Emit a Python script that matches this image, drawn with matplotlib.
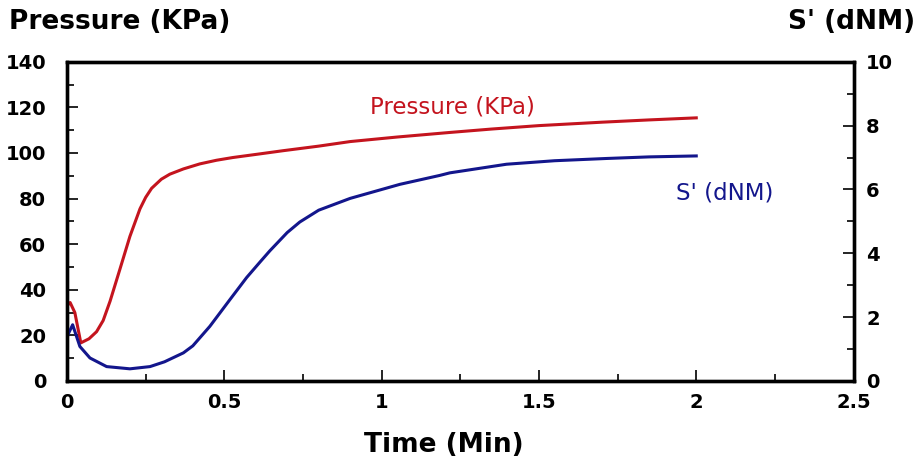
import matplotlib.pyplot as plt
from matplotlib.ticker import MultipleLocator

# values
t_pressure = [0.0, 0.01, 0.025, 0.044, 0.07, 0.094, 0.115, 0.137, 0.168, 0.2, 0.232, 0.25,
              0.269, 0.3, 0.327, 0.37, 0.422, 0.475, 0.527, 0.613, 0.687, 0.8, 0.9,
              1.05, 1.217, 1.35, 1.5, 1.7, 1.85, 2.0]
pressure = [33.0, 34.4, 30.0, 16.7, 18.5, 21.6, 26.5, 35.0, 48.9, 63.4, 75.5, 80.5,
            84.5, 88.5, 90.7, 93.0, 95.2, 96.8, 98.0, 99.6, 101.0, 103.0, 105.0,
            107.0, 109.0, 110.5, 112.0, 113.5, 114.5, 115.4]

t_torque = [0.0, 0.003, 0.018, 0.041, 0.073, 0.126, 0.2, 0.264, 0.31, 0.37, 0.4, 0.454,
            0.518, 0.571, 0.613, 0.645, 0.7, 0.74, 0.8, 0.9, 1.058, 1.185, 1.217,
            1.397, 1.55, 1.714, 1.85, 2.0]
torque = [1.3, 1.45, 1.76, 1.08, 0.72, 0.45, 0.38, 0.45, 0.6, 0.88, 1.1, 1.71,
          2.55, 3.24, 3.72, 4.08, 4.65, 4.98, 5.35, 5.72, 6.16, 6.44, 6.52,
          6.79, 6.9, 6.97, 7.02, 7.05]

red = '#c4141e'
blue = '#13168c'
font = 'DejaVu Sans'

fig = plt.figure(figsize=(9.2, 4.68), dpi=100)
ax = fig.add_axes([0.0728, 0.186, 0.855, 0.682])
ax2 = ax.twinx()

ax.plot(t_pressure, pressure, color=red, lw=2.2)
ax2.plot(t_torque, torque, color=blue, lw=2.2)

ax.set_xlim(0, 2.5)
ax.set_ylim(0, 140)
ax2.set_ylim(0, 10)

ax.xaxis.set_major_locator(MultipleLocator(0.5))
ax.xaxis.set_minor_locator(MultipleLocator(0.25))
ax.yaxis.set_major_locator(MultipleLocator(20))
ax.yaxis.set_minor_locator(MultipleLocator(10))
ax2.yaxis.set_major_locator(MultipleLocator(2))
ax2.yaxis.set_minor_locator(MultipleLocator(1))
ax.set_xticks([0, 0.5, 1, 1.5, 2, 2.5])
ax.set_xticklabels(['0', '0.5', '1', '1.5', '2', '2.5'])

for a in (ax, ax2):
    for s in a.spines.values():
        s.set_linewidth(2.4)
    a.tick_params(which='major', direction='in', length=8, width=1.2)
    a.tick_params(which='minor', direction='in', length=5, width=1.2)
ax.tick_params(axis='y', pad=15)
ax.tick_params(axis='x', pad=9)
ax2.tick_params(axis='y', pad=9)

for lbl in ax.get_xticklabels() + ax.get_yticklabels() + ax2.get_yticklabels():
    lbl.set_fontfamily(font)
    lbl.set_fontweight('bold')
    lbl.set_fontsize(14)

ax.text(1.225, 120.3, 'Pressure (KPa)', color=red, fontsize=16.5, family=font,
        ha='center', va='center')
ax2.text(2.09, 5.9, "S' (dNM)", color=blue, fontsize=16.5, family=font,
         ha='center', va='center')

fig.text(0.01, 0.953, 'Pressure (KPa)', fontsize=19, fontweight='bold', family=font,
         ha='left', va='center')
fig.text(0.995, 0.953, "S' (dNM)", fontsize=19, fontweight='bold', family=font,
         ha='right', va='center')
fig.text(0.482, 0.05, 'Time (Min)', fontsize=19, fontweight='bold', family=font,
         ha='center', va='center')

fig.savefig('out.png', dpi=100)
